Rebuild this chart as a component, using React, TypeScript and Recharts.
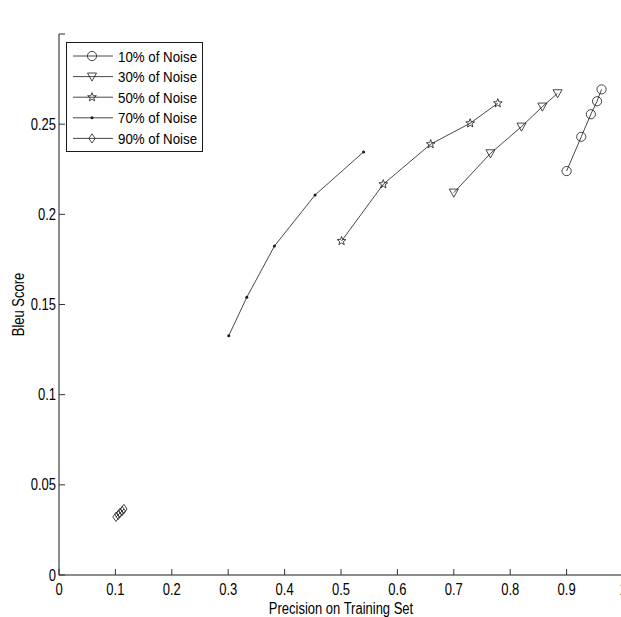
import React from 'react';
import { ScatterChart, Scatter, XAxis, YAxis } from 'recharts';

const seriesNames = ['10% of Noise', '30% of Noise', '50% of Noise', '70% of Noise', '90% of Noise'];
const markerTypes = ['circle', 'triangle', 'star', 'dot', 'diamond'];

const noise10X = [0.900, 0.926, 0.943, 0.954, 0.962];
const noise10Y = [0.224, 0.243, 0.2555, 0.2627, 0.2693];
const noise30X = [0.700, 0.765, 0.820, 0.857, 0.884];
const noise30Y = [0.212, 0.2338, 0.2486, 0.2597, 0.2671];
const noise50X = [0.501, 0.575, 0.659, 0.729, 0.778];
const noise50Y = [0.1852, 0.2167, 0.2389, 0.2505, 0.2616];
const noise70X = [0.301, 0.333, 0.382, 0.454, 0.540];
const noise70Y = [0.1327, 0.154, 0.1824, 0.2107, 0.2346];
const noise90X = [0.101, 0.105, 0.108, 0.112, 0.115];
const noise90Y = [0.0322, 0.0333, 0.0344, 0.0355, 0.0366];

const xTicks = [0, 0.1, 0.2, 0.3, 0.4, 0.5, 0.6, 0.7, 0.8, 0.9, 1];
const xTickLabels = ['0', '0.1', '0.2', '0.3', '0.4', '0.5', '0.6', '0.7', '0.8', '0.9', '1'];
const yTicks = [0, 0.05, 0.1, 0.15, 0.2, 0.25, 0.3];
const yTickLabels = ['0', '0.05', '0.1', '0.15', '0.2', '0.25', ''];

const titleText = 'Bleu Score Vs Precision on Training Set';
const xLabelText = 'Precision on Training Set';
const yLabelText = 'Bleu Score';

const xsList = [noise10X, noise30X, noise50X, noise70X, noise90X];
const ysList = [noise10Y, noise30Y, noise50Y, noise70Y, noise90Y];

const series = seriesNames.map((name, i) => ({
  name,
  marker: markerTypes[i],
  data: xsList[i].map((x, j) => ({ x, y: ysList[i][j] })),
}));
const allPoints = series.flatMap((s) => s.data);

const INK = '#1a1a1a';
const TICK_INK = '#333';
const FONT = '"Liberation Sans", Arial, Helvetica, sans-serif';
const FS = 13;
const SY = 1.2;
const TICK_LEN = 6;

function SText({ x, y, anchor = 'start', rotate = 0, size = FS, sy = SY, children }: any) {
  const t = `translate(${x},${y})${rotate ? ` rotate(${rotate})` : ''} scale(1,${sy})`;
  return (
    <text transform={t} textAnchor={anchor} fontSize={size} fontFamily={FONT} fill="#000">
      {children}
    </text>
  );
}

function Marker({ type, cx, cy }: { type: string; cx: number; cy: number }) {
  const common = { stroke: INK, strokeWidth: 0.8, fill: 'none' };
  if (type === 'circle') return <circle cx={cx} cy={cy} r={4.6} {...common} />;
  if (type === 'triangle') {
    const pts = `${cx - 4.5},${cy - 3.6} ${cx + 4.5},${cy - 3.6} ${cx},${cy + 4.5}`;
    return <polygon points={pts} {...common} />;
  }
  if (type === 'star') {
    const pts: string[] = [];
    for (let k = 0; k < 10; k++) {
      const r = k % 2 === 0 ? 4.6 : 1.9;
      const a = -Math.PI / 2 + (k * Math.PI) / 5;
      pts.push(`${cx + r * Math.cos(a)},${cy + r * Math.sin(a)}`);
    }
    return <polygon points={pts.join(' ')} {...common} />;
  }
  if (type === 'dot') return <circle cx={cx} cy={cy} r={1.5} fill={INK} stroke="none" />;
  const pts = `${cx},${cy - 4.6} ${cx + 3.2},${cy} ${cx},${cy + 4.6} ${cx - 3.2},${cy}`;
  return <polygon points={pts} {...common} />;
}

const makeShape = (type: string) => (props: any) => {
  const { cx, cy } = props;
  if (cx == null || cy == null) return <g />;
  return <Marker type={type} cx={cx} cy={cy} />;
};
const HiddenShape = () => <g />;

const BottomTick = (props: any) => {
  const { x, y, payload } = props;
  const idx = xTicks.indexOf(payload.value);
  return (
    <g>
      <line x1={x} x2={x} y1={y} y2={y - TICK_LEN} stroke={TICK_INK} strokeWidth={1} />
      <SText x={x} y={y + 20} anchor="middle">{xTickLabels[idx] ?? ''}</SText>
    </g>
  );
};
const TopTick = (props: any) => {
  const { x, y } = props;
  return <line x1={x} x2={x} y1={y} y2={y + TICK_LEN} stroke={TICK_INK} strokeWidth={1} />;
};
const LeftTick = (props: any) => {
  const { x, y, payload } = props;
  const idx = yTicks.indexOf(payload.value);
  return (
    <g>
      <line x1={x} x2={x + TICK_LEN} y1={y} y2={y} stroke={TICK_INK} strokeWidth={1} />
      <SText x={x - 3} y={y + 5.5} anchor="end">{yTickLabels[idx] ?? ''}</SText>
    </g>
  );
};
const RightTick = (props: any) => {
  const { x, y } = props;
  return <line x1={x} x2={x - TICK_LEN} y1={y} y2={y} stroke={TICK_INK} strokeWidth={1} />;
};

const TitleLabel = (props: any) => {
  const vb = props.viewBox || {};
  return <SText x={vb.x + vb.width / 2} y={vb.y - 13} anchor="middle">{titleText}</SText>;
};
const XLabel = (props: any) => {
  const vb = props.viewBox || {};
  return <SText x={vb.x + vb.width / 2} y={vb.y + vb.height - 3} anchor="middle">{xLabelText}</SText>;
};
const YLabel = (props: any) => {
  const vb = props.viewBox || {};
  return <SText x={vb.x + 24} y={vb.y + vb.height / 2} anchor="middle" rotate={-90}>{yLabelText}</SText>;
};

function LegendBox() {
  return (
    <div
      style={{
        position: 'absolute',
        left: 66,
        top: 42,
        width: 137,
        height: 110,
        border: `1px solid ${INK}`,
        background: '#fff',
        boxSizing: 'border-box',
      }}
    >
      <svg width={137} height={110} style={{ display: 'block', position: 'absolute', left: -1, top: -1 }}>
        {series.map((s, i) => {
          const y = 14 + i * 20.6;
          return (
            <g key={s.name}>
              <line x1={7} x2={47} y1={y} y2={y} stroke={INK} strokeWidth={0.8} />
              <Marker type={s.marker} cx={26} cy={y} />
              <SText x={52} y={y + 5.5} size={13.3} sy={1.15}>{s.name}</SText>
            </g>
          );
        })}
      </svg>
    </div>
  );
}

export default function App() {
  return (
    <div style={{ position: 'absolute', left: 0, top: 0, width: 621, height: 617, overflow: 'hidden', background: '#fff' }}>
      <ScatterChart width={625} height={617} margin={{ top: 34, right: 2, bottom: 0, left: 0 }}>
        <XAxis
          xAxisId="bottom"
          type="number"
          dataKey="x"
          domain={[0, 1]}
          ticks={xTicks}
          interval={0}
          orientation="bottom"
          height={42}
          tickSize={0}
          tickMargin={0}
          tickLine={false}
          tick={BottomTick}
          stroke={INK}
          allowDataOverflow
          label={{ content: XLabel }}
        />
        <XAxis
          xAxisId="top"
          type="number"
          dataKey="x"
          domain={[0, 1]}
          ticks={xTicks}
          interval={0}
          orientation="top"
          height={0}
          tickSize={0}
          tickMargin={0}
          tickLine={false}
          tick={TopTick}
          stroke={INK}
          allowDataOverflow
          label={{ content: TitleLabel }}
        />
        <YAxis
          yAxisId="left"
          type="number"
          dataKey="y"
          domain={[0, 0.3]}
          ticks={yTicks}
          interval={0}
          orientation="left"
          width={59}
          tickSize={0}
          tickMargin={0}
          tickLine={false}
          tick={LeftTick}
          stroke={INK}
          allowDataOverflow
          label={{ content: YLabel }}
        />
        <YAxis
          yAxisId="right"
          type="number"
          dataKey="y"
          domain={[0, 0.3]}
          ticks={yTicks}
          interval={0}
          orientation="right"
          width={0}
          tickSize={0}
          tickMargin={0}
          tickLine={false}
          tick={RightTick}
          stroke={INK}
          allowDataOverflow
        />
        <Scatter
          name="frame"
          data={allPoints}
          xAxisId="top"
          yAxisId="right"
          shape={HiddenShape}
          legendType="none"
          isAnimationActive={false}
        />
        {series.map((s) => (
          <Scatter
            key={s.name}
            name={s.name}
            data={s.data}
            xAxisId="bottom"
            yAxisId="left"
            line={{ stroke: INK, strokeWidth: 0.8 }}
            lineType="joint"
            shape={makeShape(s.marker)}
            isAnimationActive={false}
          />
        ))}
      </ScatterChart>
      <LegendBox />
    </div>
  );
}
